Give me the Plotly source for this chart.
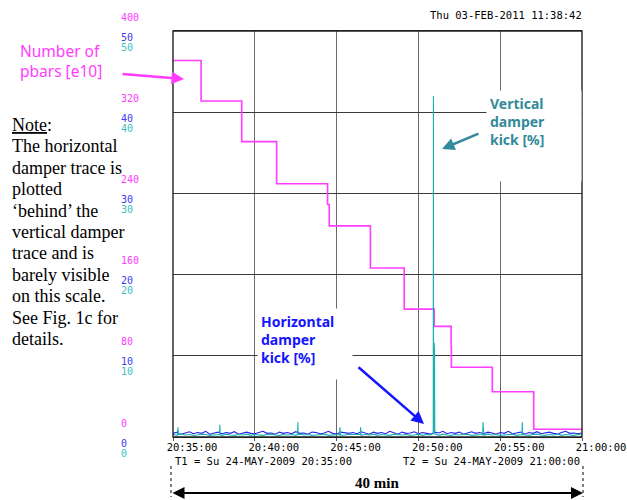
import pandas as pd
import plotly.graph_objects as go

# ---------------- data ----------------
T0 = pd.Timestamp("2009-05-24 20:35:00")
T1 = pd.Timestamp("2009-05-24 21:00:00")

# Number of pbars [e10]: step changes (seconds after 20:35:00, new level)
pbar_t = [0, 103, 252, 380, 567, 573, 724, 848, 958, 1020, 1021, 1171, 1323, 1500]
pbar_v = [371, 331, 291, 249.5, 229, 208, 166.5, 126, 109, 88.7, 68.7, 44.6, 7.6, 7.6]

# damper kick baselines, sampled every 15 s
base_t = list(range(0, 1501, 15))
vert_base = [0.3, 0.2, 0.35, 0.25, 0.3, 0.2, 0.25, 0.35, 0.3, 0.2,
             0.25, 0.3, 0.2, 0.35, 0.25, 0.2, 0.3, 0.25, 0.35, 0.2,
             0.3, 0.25, 0.2, 0.3, 0.35, 0.25, 0.2, 0.3, 0.25, 0.3,
             0.2, 0.35, 0.25, 0.3, 0.2, 0.25, 0.3, 0.35, 0.2, 0.25,
             0.3, 0.2, 0.25, 0.35, 0.3, 0.25, 0.2, 0.3, 0.25, 0.35,
             0.2, 0.3, 0.25, 0.2, 0.35, 0.3, 0.25, 0.3, 0.2, 0.25,
             0.35, 0.2, 0.3, 0.25, 0.3, 0.2, 0.35, 0.25, 0.2, 0.3,
             0.25, 0.3, 0.35, 0.2, 0.25, 0.3, 0.2, 0.35, 0.25, 0.3,
             0.2, 0.25, 0.3, 0.35, 0.2, 0.3, 0.25, 0.2, 0.3, 0.35,
             0.25, 0.2, 0.3, 0.25, 0.35, 0.2, 0.3, 0.25, 0.2, 0.3,
             0.25]
horiz_base = [0.45, 0.6, 0.35, 0.5, 0.65, 0.4, 0.55, 0.45, 0.7, 0.35,
              0.5, 0.6, 0.4, 0.55, 0.45, 0.65, 0.35, 0.5, 0.6, 0.45,
              0.4, 0.55, 0.7, 0.45, 0.5, 0.35, 0.6, 0.45, 0.55, 0.4,
              0.65, 0.45, 0.5, 0.35, 0.6, 0.55, 0.4, 0.5, 0.7, 0.45,
              0.35, 0.6, 0.5, 0.45, 0.55, 0.4, 0.65, 0.5, 0.35, 0.6,
              0.45, 0.55, 0.4, 0.7, 0.5, 0.35, 0.6, 0.45, 0.5, 0.65,
              0.4, 0.55, 0.45, 0.35, 0.6, 0.5, 0.7, 0.4, 0.55, 0.45,
              0.6, 0.35, 0.5, 0.65, 0.45, 0.55, 0.4, 0.6, 0.5, 0.35,
              0.55, 0.45, 0.7, 0.4, 0.5, 0.6, 0.35, 0.55, 0.45, 0.65,
              0.4, 0.5, 0.6, 0.45, 0.35, 0.55, 0.7, 0.45, 0.5, 0.4,
              0.5]

# isolated kicks (seconds, %) with their flanking samples
vert_spike_t = [17, 18, 19, 171, 172, 173, 457, 458, 459, 611, 612, 613, 687, 688, 689,
                954.5, 955, 955.5, 956, 956.5, 957, 957.5, 958, 958.5, 959, 960,
                1136, 1137, 1138, 1280, 1281, 1282]
vert_spike_v = [0.3, 1.2, 0.3, 0.3, 1.5, 0.3, 0.3, 1.8, 0.3, 0.3, 1.2, 0.3, 0.3, 1.2, 0.3,
                0.4, 42, 0.5, 21.6, 2.0, 20.0, 1.0, 11.6, 0.5, 11.0, 0.4,
                0.3, 1.8, 0.3, 0.3, 1.8, 0.3]
horiz_spike_t = [17, 18, 19, 955, 956, 957]
horiz_spike_v = [0.4, 0.8, 0.4, 0.5, 1.3, 0.5]

y_ticks_pbar = [0, 80, 160, 240, 320, 400]
y_ticks_kick = [0, 10, 20, 30, 40, 50]

note_lines = ["<u>Note</u>:", "The horizontal", "damper trace is", "plotted",
              "\u2018behind\u2019 the", "vertical damper", "trace and is",
              "barely visible", "on this scale.", "See Fig. 1c for", "details."]


def merged(t_a, v_a, t_b, v_b):
    pairs = sorted(zip(t_a + t_b, v_a + v_b))
    ts = [T0 + pd.Timedelta(seconds=t) for t, _ in pairs]
    return ts, [v for _, v in pairs]


vt, vv = merged(base_t, vert_base, vert_spike_t, vert_spike_v)
ht, hv = merged(base_t, horiz_base, horiz_spike_t, horiz_spike_v)
pt = [T0 + pd.Timedelta(seconds=t) for t in pbar_t]

# ---------------- colours / fonts ----------------
MAGENTA = "#ff3cff"
BLUE = "#2020f0"
CYAN = "#18b0b0"
MONO = "DejaVu Sans Mono"

# ---------------- layout geometry ----------------
W, H = 627, 500
ML, MR, MT, MB = 100, 45, 31, 63
PW, PH = W - ML - MR, H - MT - MB


def fx(px):
    return (px - ML) / PW


def fy(py):
    return (H - MB - py) / PH


fig = go.Figure()
fig.add_trace(go.Scatter(x=pt, y=pbar_v, mode="lines", line=dict(color=MAGENTA, width=1.6, shape="hv"),
                         yaxis="y", name="pbars", showlegend=False))
fig.add_trace(go.Scatter(x=ht, y=hv, mode="lines", line=dict(color=BLUE, width=1.1),
                         yaxis="y2", name="horizontal", showlegend=False))
fig.add_trace(go.Scatter(x=vt, y=vv, mode="lines", line=dict(color=CYAN, width=1.1),
                         yaxis="y3", name="vertical", showlegend=False))


def label_axis(rng, vals, shift, color, **extra):
    d = dict(range=rng, tickvals=vals, anchor="free", side="right", position=fx(120),
             showline=False, ticks="", zeroline=False, fixedrange=True, automargin=False,
             ticklabelshift=shift, tickfont=dict(family=MONO, size=10, color=color))
    d.update(extra)
    return d


fig.update_layout(
    width=W, height=H, autosize=False,
    margin=dict(l=ML, r=MR, t=MT, b=MB),
    paper_bgcolor="white", plot_bgcolor="white",
    xaxis=dict(domain=[fx(173), 1], range=[T0, T1], type="date", automargin=False,
               tickformat="%H:%M:%S", dtick=300000, tick0=T0,
               showgrid=True, gridcolor="#6a6a6a", gridwidth=1.4,
               showline=True, linecolor="#222", linewidth=1.4, mirror=True,
               ticks="outside", ticklen=3, tickcolor="#555",
               ticklabelshift=19, ticklabelstandoff=-3,
               tickfont=dict(family=MONO, size=10.5, color="black"),
               zeroline=False),
    yaxis=label_axis([0, 400], y_ticks_pbar, -14, MAGENTA,
                     showgrid=True, gridcolor="#3a3a3a", gridwidth=1.3),
    yaxis2=label_axis([0, 50], y_ticks_kick, 6, "#3c3cf0", overlaying="y", showgrid=False),
    yaxis3=label_axis([0, 50], y_ticks_kick, 16, "#3cc0c0", overlaying="y", showgrid=False),
)

# plot frame (left / right edges)
fig.add_shape(type="rect", xref="paper", yref="paper", x0=fx(173), x1=1, y0=0, y1=1,
              line=dict(color="#222", width=1.4), layer="above")

ann = []
# header / footer text
ann.append(dict(text="Thu 03-FEB-2011 11:38:42", x=fx(584), y=fy(15), xanchor="right", yanchor="middle",
                font=dict(family=MONO, size=10.5, color="black")))
ann.append(dict(text="T1 = Su 24-MAY-2009 20:35:00", x=fx(173), y=fy(461), xanchor="left", yanchor="middle",
                font=dict(family=MONO, size=10.5, color="black")))
ann.append(dict(text="T2 = Su 24-MAY-2009 21:00:00", x=fx(582), y=fy(461), xanchor="right", yanchor="middle",
                font=dict(family=MONO, size=10.5, color="black")))
ann.append(dict(text="<b>40 min</b>", x=fx(377), y=fy(483), xanchor="center", yanchor="middle",
                font=dict(family="Liberation Serif", size=15, color="black")))
# 40 min span arrow
ann.append(dict(text="", x=fx(583), y=fy(493), ax=-412, ay=0, showarrow=True, arrowside="end+start",
                arrowhead=2, arrowsize=1.2, arrowwidth=2, arrowcolor="black"))

# trace labels
ann.append(dict(text="Number of<br>pbars [e10]", x=fx(18), y=fy(38), xanchor="left", yanchor="top",
                align="left", font=dict(family="Noto Sans", size=15.5, color=MAGENTA)))
ann.append(dict(text="", x=fx(184), y=fy(79), ax=-63, ay=-5, showarrow=True,
                arrowhead=2, arrowsize=1, arrowwidth=2.5, arrowcolor=MAGENTA))
ann.append(dict(text="<b>Vertical<br>damper<br>kick [%]</b>", x=fx(486), y=fy(90), xanchor="left",
                yanchor="top", align="left", bgcolor="white", width=88, height=84, valign="top",
                borderpad=3, font=dict(family="Noto Sans", size=14, color="#338a9a")))
ann.append(dict(text="", x=fx(442), y=fy(149), ax=38, ay=-16, showarrow=True,
                arrowhead=2, arrowsize=1, arrowwidth=2.5, arrowcolor="#338a9a"))
ann.append(dict(text="<b>Horizontal<br>damper<br>kick [%]</b>", x=fx(257), y=fy(308), xanchor="left",
                yanchor="top", align="left", bgcolor="white", width=88, height=64, valign="top",
                borderpad=3, font=dict(family="Noto Sans", size=14, color="#1515ff")))
ann.append(dict(text="", x=fx(424), y=fy(424), ax=-67, ay=-58, showarrow=True,
                arrowhead=2, arrowsize=1, arrowwidth=2.5, arrowcolor="#1515ff"))

# explanatory note, one line per annotation for tight serif leading
for i, line in enumerate(note_lines):
    ann.append(dict(text=line, x=fx(10), y=fy(125 + 21.4 * i), xanchor="left", yanchor="middle",
                    align="left", font=dict(family="Liberation Serif", size=18, color="black")))

for a in ann:
    a.setdefault("xref", "paper")
    a.setdefault("yref", "paper")
    a.setdefault("showarrow", False)
    fig.add_annotation(**a)

# dotted markers at the span ends
for px in (171, 583):
    fig.add_shape(type="line", xref="paper", yref="paper", x0=fx(px), x1=fx(px), y0=fy(466), y1=fy(497),
                  line=dict(color="black", width=1, dash="dot"))

fig.write_html("out.html")
